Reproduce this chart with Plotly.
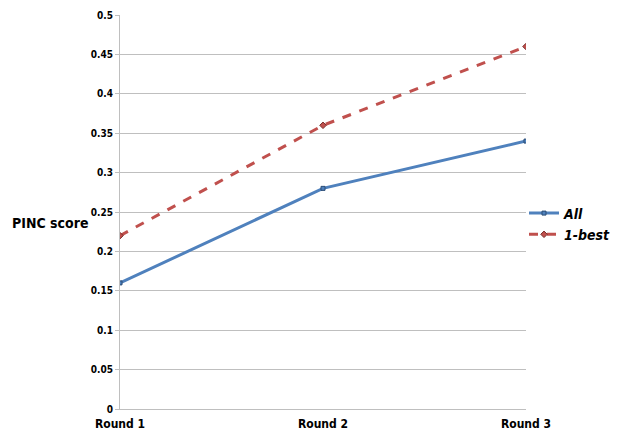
import plotly.graph_objects as go

rounds = ["Round 1", "Round 2", "Round 3"]
all_scores = [0.16, 0.28, 0.34]
best_scores = [0.22, 0.36, 0.46]
y_ticks = [0, 0.05, 0.1, 0.15, 0.2, 0.25, 0.3, 0.35, 0.4, 0.45, 0.5]
y_labels = ["0", "0.05", "0.1", "0.15", "0.2", "0.25", "0.3", "0.35", "0.4", "0.45", "0.5"]

FONT = "DejaVu Sans Condensed, DejaVu Sans"
W, H = 611, 425  # page body has an 8px margin

fig = go.Figure()
fig.add_trace(go.Scatter(
    x=[0, 1, 2], y=all_scores, name="All", mode="lines+markers", legendgroup="a",
    line=dict(color="#4F81BD", width=3),
    marker=dict(symbol="square", size=4, color="#4F81BD", line=dict(color="#2C4D75", width=1)),
))
fig.add_trace(go.Scatter(
    x=[0, 1, 2], y=best_scores, name="1-best", mode="lines+markers", legendgroup="b",
    line=dict(color="#C0504D", width=3, dash="dash"),
    marker=dict(symbol="diamond", size=5, color="#C0504D", line=dict(color="#772C2A", width=1)),
))

fig.update_layout(
    width=W, height=H,
    margin=dict(l=112, r=93, t=7, b=24, autoexpand=False),
    paper_bgcolor="white", plot_bgcolor="white",
    font=dict(family=FONT, size=11, color="black"),
    legend=dict(xref="container", yref="container", x=516 / W, y=1 - 216 / H,
                xanchor="left", yanchor="middle", traceorder="grouped", tracegroupgap=0,
                font=dict(family=FONT, size=14, color="black", weight="bold", style="italic"),
                itemwidth=30, bgcolor="rgba(0,0,0,0)"),
    annotations=[dict(text="<b>PINC score</b>", x=-110 / 406, xref="paper", y=0.472, yref="paper",
                      showarrow=False, xanchor="left", yanchor="middle",
                      font=dict(family=FONT, size=14, color="black"))],
)

fig.update_xaxes(
    range=[0, 2], tickvals=[0, 1, 2], ticktext=["<b>%s</b>" % r for r in rounds],
    showgrid=False, showline=True, linecolor="#BFBFBF", linewidth=1,
    ticks="", tickfont=dict(family=FONT, size=12), ticklabelstandoff=4,
    zeroline=False, automargin=False,
)
fig.update_yaxes(
    range=[0, 0.5], tickvals=y_ticks, ticktext=["<b>%s</b>" % t for t in y_labels],
    showgrid=True, gridcolor="#BFBFBF", gridwidth=1,
    showline=True, linecolor="#BFBFBF", linewidth=1,
    ticks="outside", ticklen=4, tickcolor="#BFBFBF",
    tickfont=dict(family=FONT, size=10), zeroline=False, automargin=False,
)

fig.write_html("out.html")
